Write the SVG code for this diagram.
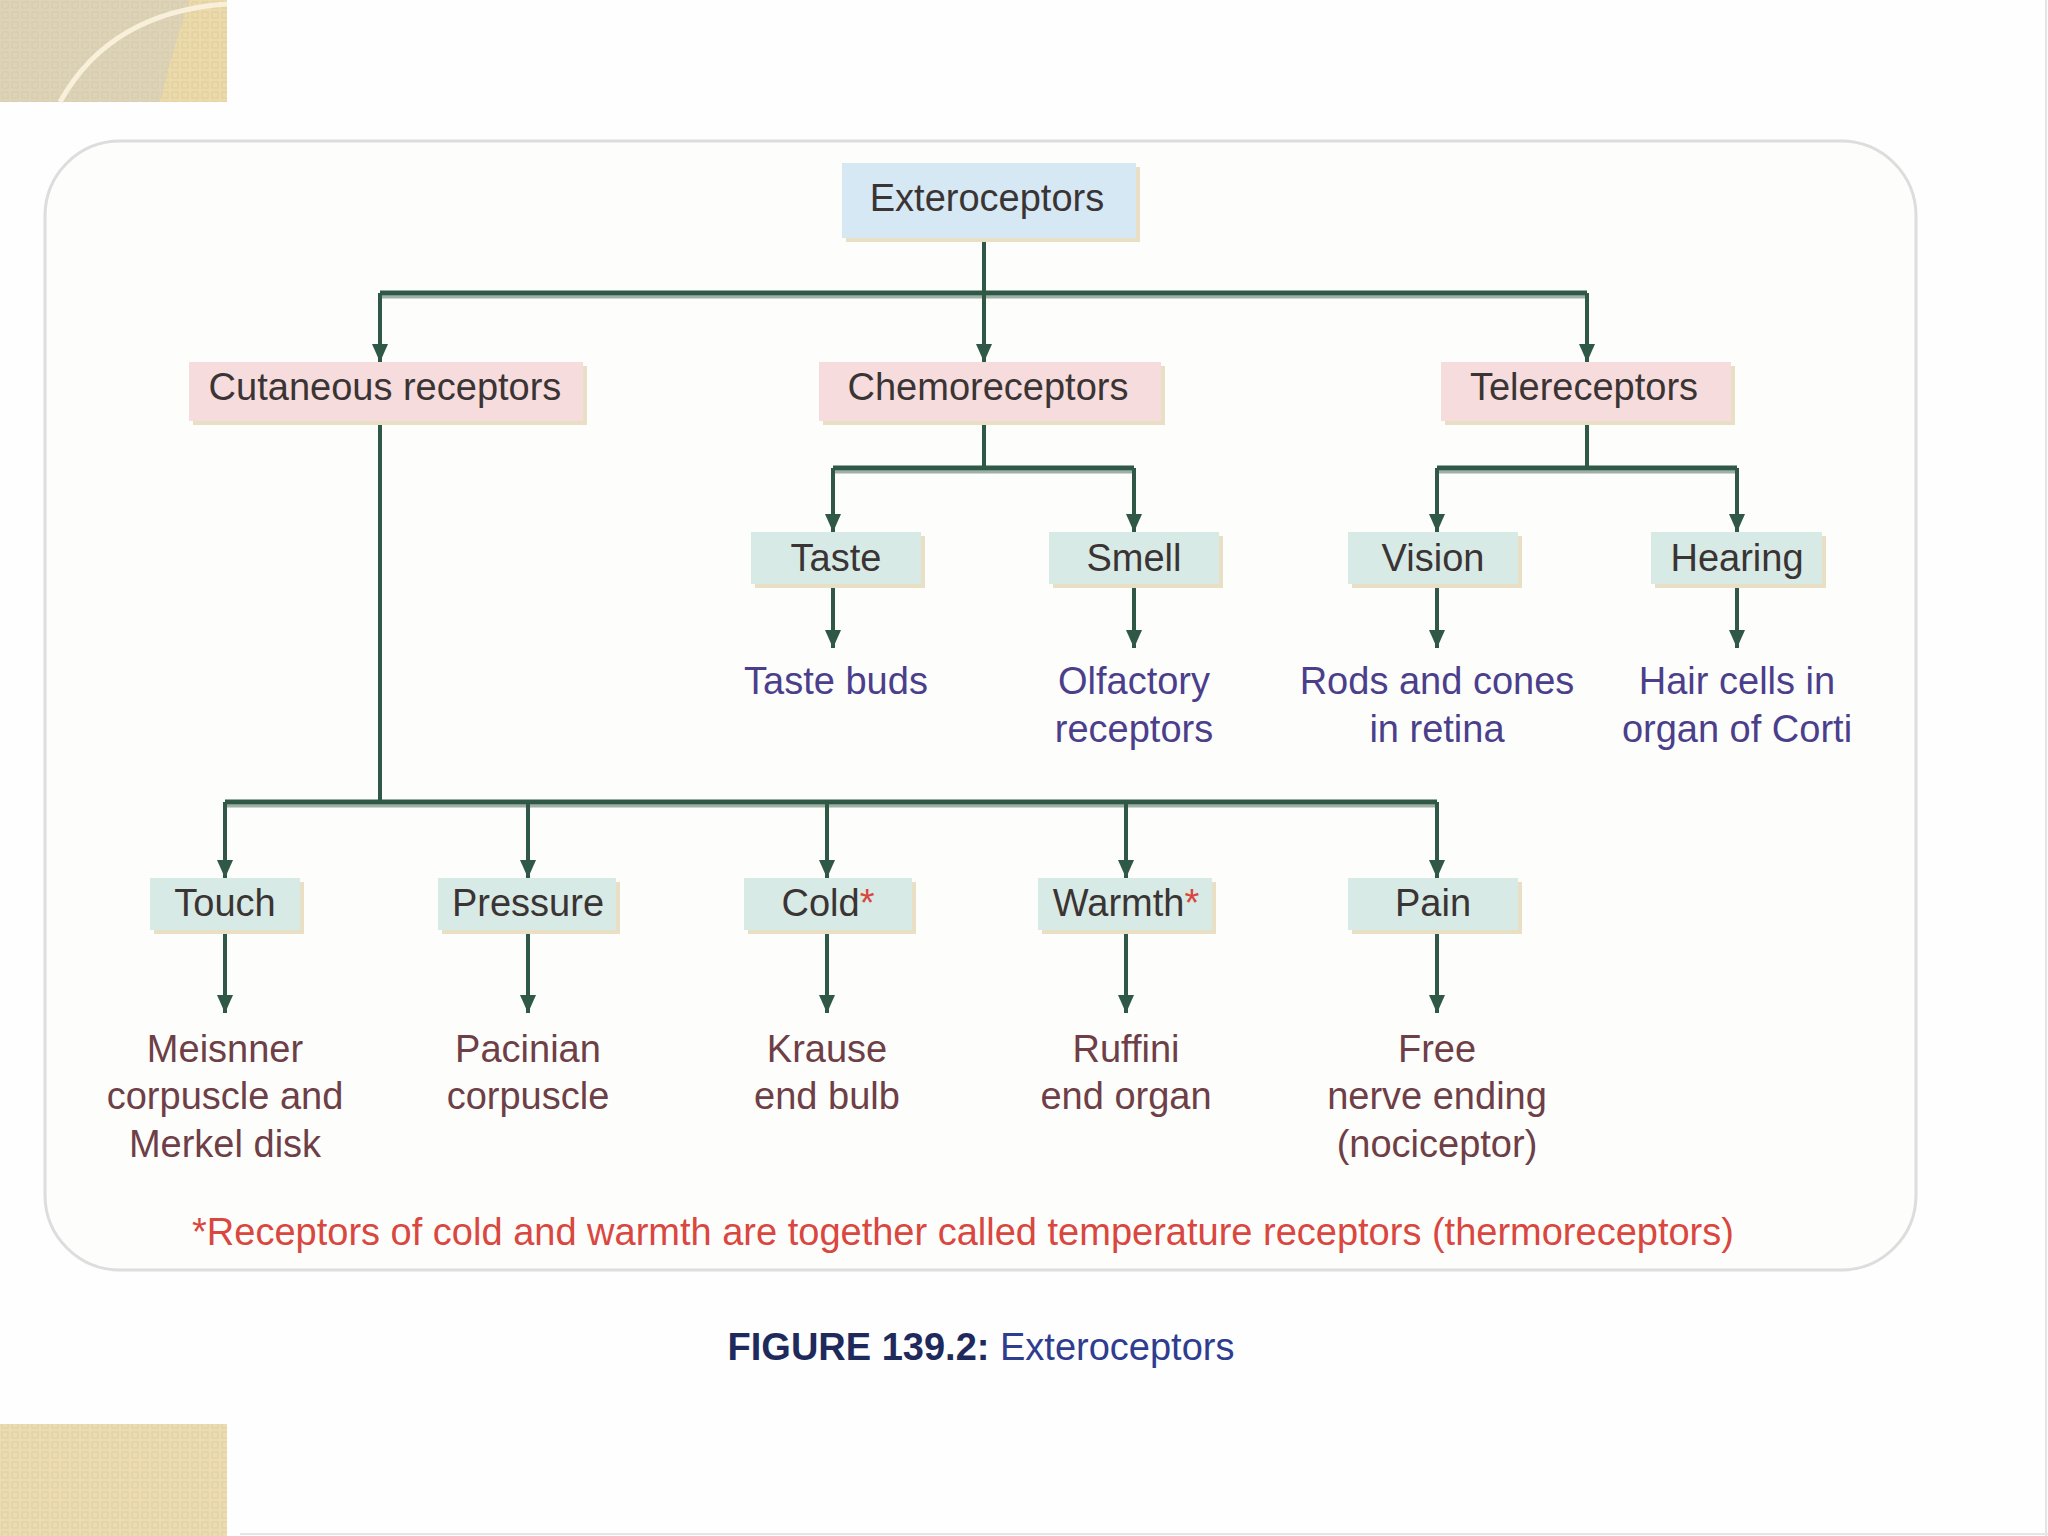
<svg xmlns="http://www.w3.org/2000/svg" width="2048" height="1536" viewBox="0 0 2048 1536">
<defs>
<style>
.t{font-family:"Liberation Sans",Arial,sans-serif;font-size:38px;text-anchor:middle}
.bx{fill:#3a3434}
.lp{fill:#4b3f8c}
.lb{fill:#6e3f46}
.sh{fill:#e9dfc4}
.blue{fill:#d5e8f4}
.pink{fill:#f6dcdc}
.grn{fill:#d8eae5}
.ln{stroke:#2f5846;stroke-width:4;fill:none}
.hb{stroke:#2f5846;stroke-width:5;fill:none}
.hs{stroke:#9fb0a6;stroke-width:3;fill:none}
.red{fill:#d9473f}
</style>
<pattern id="dots" width="10" height="10" patternUnits="userSpaceOnUse">
<rect x="2" y="2" width="6" height="6" fill="none" stroke="#d2c49f" stroke-width="1" opacity="0.6"/>
</pattern>
<marker id="ah" markerWidth="16" markerHeight="18" refX="8" refY="18" orient="0" markerUnits="userSpaceOnUse" viewBox="0 0 16 18">
<path d="M0 0 L16 0 L8 18 Z" fill="#2f5846"/>
</marker>
</defs>
<rect width="2048" height="1536" fill="#fefefe"/>
<line x1="2046" y1="0" x2="2046" y2="1536" stroke="#e4e4e4" stroke-width="2"/>
<line x1="240" y1="1534" x2="2048" y2="1534" stroke="#e6e6e6" stroke-width="2"/>

<g id="tile-top">
<rect x="0" y="0" width="227" height="102" fill="#ddd3b8"/>
<path d="M160 102 Q175 40 190 0 L227 0 L227 102 Z" fill="#ecdaa9"/>
<rect x="0" y="0" width="227" height="102" fill="url(#dots)"/>
<path d="M60 102 Q110 12 227 4" stroke="#f8f0da" stroke-width="5" fill="none"/>
</g>
<g id="tile-bottom">
<rect x="0" y="1424" width="227" height="112" fill="#ecdcb0"/>
<rect x="0" y="1424" width="227" height="112" fill="url(#dots)"/>
</g>

<g id="panel">
<rect x="45" y="141" width="1871" height="1129" rx="75" fill="#fdfdfc" stroke="#dedcdc" stroke-width="3"/>
</g>

<g id="connectors">
<path class="ln" d="M984 238 V293"/>
<path class="hs" d="M380 297 H1587"/>
<path class="hb" d="M380 293 H1587"/>
<path class="ln" d="M380 293 V362" marker-end="url(#ah)"/>
<path class="ln" d="M984 293 V362" marker-end="url(#ah)"/>
<path class="ln" d="M1587 293 V362" marker-end="url(#ah)"/>

<path class="ln" d="M984 421 V468"/>
<path class="hs" d="M833 472 H1134"/>
<path class="hb" d="M833 468 H1134"/>
<path class="ln" d="M833 468 V532" marker-end="url(#ah)"/>
<path class="ln" d="M1134 468 V532" marker-end="url(#ah)"/>

<path class="ln" d="M1587 421 V468"/>
<path class="hs" d="M1437 472 H1737"/>
<path class="hb" d="M1437 468 H1737"/>
<path class="ln" d="M1437 468 V532" marker-end="url(#ah)"/>
<path class="ln" d="M1737 468 V532" marker-end="url(#ah)"/>

<path class="ln" d="M833 584 V648" marker-end="url(#ah)"/>
<path class="ln" d="M1134 584 V648" marker-end="url(#ah)"/>
<path class="ln" d="M1437 584 V648" marker-end="url(#ah)"/>
<path class="ln" d="M1737 584 V648" marker-end="url(#ah)"/>

<path class="ln" d="M380 421 V802"/>
<path class="hs" d="M225 806 H1437"/>
<path class="hb" d="M225 802 H1437"/>
<path class="ln" d="M225 802 V878" marker-end="url(#ah)"/>
<path class="ln" d="M528 802 V878" marker-end="url(#ah)"/>
<path class="ln" d="M827 802 V878" marker-end="url(#ah)"/>
<path class="ln" d="M1126 802 V878" marker-end="url(#ah)"/>
<path class="ln" d="M1437 802 V878" marker-end="url(#ah)"/>

<path class="ln" d="M225 930 V1013" marker-end="url(#ah)"/>
<path class="ln" d="M528 930 V1013" marker-end="url(#ah)"/>
<path class="ln" d="M827 930 V1013" marker-end="url(#ah)"/>
<path class="ln" d="M1126 930 V1013" marker-end="url(#ah)"/>
<path class="ln" d="M1437 930 V1013" marker-end="url(#ah)"/>
</g>

<g id="exteroceptors">
<rect class="sh" x="846" y="167" width="294" height="75"/>
<rect class="blue" x="842" y="163" width="294" height="75"/>
<text class="t bx" x="987" y="211">Exteroceptors</text>
</g>

<g id="cutaneous">
<rect class="sh" x="193" y="366" width="394" height="59"/>
<rect class="pink" x="189" y="362" width="394" height="59"/>
<text class="t bx" x="385" y="400">Cutaneous receptors</text>
</g>
<g id="chemoreceptors">
<rect class="sh" x="823" y="366" width="342" height="59"/>
<rect class="pink" x="819" y="362" width="342" height="59"/>
<text class="t bx" x="988" y="400">Chemoreceptors</text>
</g>
<g id="telereceptors">
<rect class="sh" x="1445" y="366" width="290" height="59"/>
<rect class="pink" x="1441" y="362" width="290" height="59"/>
<text class="t bx" x="1584" y="400">Telereceptors</text>
</g>

<g id="taste">
<rect class="sh" x="755" y="536" width="170" height="52"/>
<rect class="grn" x="751" y="532" width="170" height="52"/>
<text class="t bx" x="836" y="571">Taste</text>
</g>
<g id="smell">
<rect class="sh" x="1053" y="536" width="170" height="52"/>
<rect class="grn" x="1049" y="532" width="170" height="52"/>
<text class="t bx" x="1134" y="571">Smell</text>
</g>
<g id="vision">
<rect class="sh" x="1352" y="536" width="170" height="52"/>
<rect class="grn" x="1348" y="532" width="170" height="52"/>
<text class="t bx" x="1433" y="571">Vision</text>
</g>
<g id="hearing">
<rect class="sh" x="1655" y="536" width="171" height="52"/>
<rect class="grn" x="1651" y="532" width="171" height="52"/>
<text class="t bx" x="1737" y="571">Hearing</text>
</g>

<g id="taste-buds"><text class="t lp" x="836" y="694">Taste buds</text></g>
<g id="olfactory"><text class="t lp" x="1134" y="694">Olfactory</text><text class="t lp" x="1134" y="742">receptors</text></g>
<g id="rods-cones"><text class="t lp" x="1437" y="694">Rods and cones</text><text class="t lp" x="1437" y="742">in retina</text></g>
<g id="hair-cells"><text class="t lp" x="1737" y="694">Hair cells in</text><text class="t lp" x="1737" y="742">organ of Corti</text></g>

<g id="touch">
<rect class="sh" x="154" y="882" width="150" height="52"/>
<rect class="grn" x="150" y="878" width="150" height="52"/>
<text class="t bx" x="225" y="916">Touch</text>
</g>
<g id="pressure">
<rect class="sh" x="442" y="882" width="178" height="52"/>
<rect class="grn" x="438" y="878" width="178" height="52"/>
<text class="t bx" x="528" y="916">Pressure</text>
</g>
<g id="cold">
<rect class="sh" x="748" y="882" width="168" height="52"/>
<rect class="grn" x="744" y="878" width="168" height="52"/>
<text class="t bx" x="828" y="916">Cold<tspan class="red">*</tspan></text>
</g>
<g id="warmth">
<rect class="sh" x="1042" y="882" width="174" height="52"/>
<rect class="grn" x="1038" y="878" width="174" height="52"/>
<text class="t bx" x="1126" y="916">Warmth<tspan class="red">*</tspan></text>
</g>
<g id="pain">
<rect class="sh" x="1352" y="882" width="170" height="52"/>
<rect class="grn" x="1348" y="878" width="170" height="52"/>
<text class="t bx" x="1433" y="916">Pain</text>
</g>

<g id="meisnner"><text class="t lb" x="225" y="1062">Meisnner</text><text class="t lb" x="225" y="1109">corpuscle and</text><text class="t lb" x="225" y="1157">Merkel disk</text></g>
<g id="pacinian"><text class="t lb" x="528" y="1062">Pacinian</text><text class="t lb" x="528" y="1109">corpuscle</text></g>
<g id="krause"><text class="t lb" x="827" y="1062">Krause</text><text class="t lb" x="827" y="1109">end bulb</text></g>
<g id="ruffini"><text class="t lb" x="1126" y="1062">Ruffini</text><text class="t lb" x="1126" y="1109">end organ</text></g>
<g id="free-nerve"><text class="t lb" x="1437" y="1062">Free</text><text class="t lb" x="1437" y="1109">nerve ending</text><text class="t lb" x="1437" y="1157">(nociceptor)</text></g>

<g id="footnote"><text class="t red" x="963" y="1245">*Receptors of cold and warmth are together called temperature receptors (thermoreceptors)</text></g>
<g id="caption"><text class="t" x="981" y="1360"><tspan fill="#1f2a5c" font-weight="bold">FIGURE 139.2:</tspan><tspan fill="#2e3d8f"> Exteroceptors</tspan></text></g>
</svg>
